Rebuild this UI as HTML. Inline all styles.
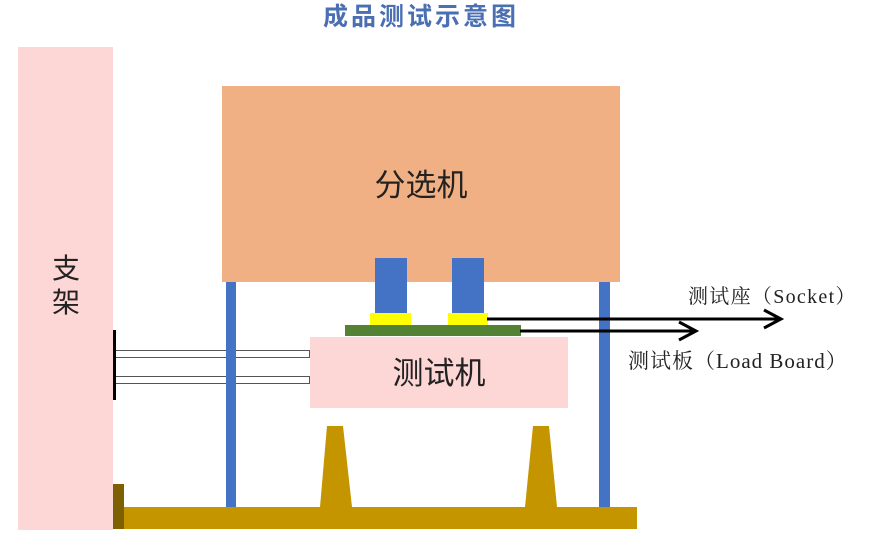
<!DOCTYPE html>
<html><head><meta charset="utf-8"><style>
body{margin:0;width:872px;height:548px;background:#fff;position:relative;overflow:hidden;font-family:"Liberation Serif","Noto Serif CJK SC",serif}
div{position:absolute}
</style></head><body>
<div style="left:310px;top:0;width:222px;text-align:center;font:bold 25px 'Noto Sans CJK SC',sans-serif;color:#4a6fb3;line-height:30px;letter-spacing:3px">成品测试示意图</div>
<div style="left:18px;top:47px;width:95px;height:483px;background:#fdd6d6"></div>
<div style="left:46px;top:250px;width:40px;font:28px 'Noto Sans CJK SC',sans-serif;color:#222;line-height:34px;text-align:center">支<br>架</div>
<div style="left:222px;top:86px;width:398px;height:196px;background:#f0b083"></div>
<div style="left:222px;top:160px;width:398px;text-align:center;font:31px 'Noto Sans CJK SC',sans-serif;color:#222">分选机</div>
<div style="left:226px;top:282px;width:10px;height:226px;background:#4472c4"></div>
<div style="left:599px;top:282px;width:11px;height:226px;background:#4472c4"></div>
<div style="left:375px;top:258px;width:32px;height:55px;background:#4472c4"></div>
<div style="left:452px;top:258px;width:32px;height:55px;background:#4472c4"></div>
<div style="left:370px;top:313px;width:41px;height:12px;background:#ffff00"></div>
<div style="left:448px;top:313px;width:40px;height:12px;background:#ffff00"></div>
<div style="left:345px;top:325px;width:176px;height:11px;background:#548235"></div>
<div style="left:310px;top:337px;width:258px;height:71px;background:#fdd6d6"></div>
<div style="left:310px;top:348px;width:258px;text-align:center;font:31px 'Noto Sans CJK SC',sans-serif;color:#222">测试机</div>
<div style="left:115px;top:350px;width:193px;height:6px;border:1px solid #555;background:#fff"></div>
<div style="left:115px;top:376px;width:193px;height:6px;border:1px solid #555;background:#fff"></div>
<div style="left:113px;top:330px;width:3px;height:70px;background:#000"></div>
<div style="left:226px;top:345px;width:10px;height:45px;background:#4472c4"></div>
<svg width="872" height="548" style="position:absolute;left:0;top:0">
<line x1="487" y1="319" x2="780" y2="319" stroke="#000" stroke-width="3"/>
<polyline points="764,310 781,319 764,328" fill="none" stroke="#000" stroke-width="3"/>
<line x1="520" y1="331" x2="695" y2="331" stroke="#000" stroke-width="3"/>
<polyline points="679,322 696,331 679,340" fill="none" stroke="#000" stroke-width="3"/>
<polygon points="327,426 343,426 352,507 320,507" fill="#c59500"/>
<polygon points="533,426 549,426 557,507 525,507" fill="#c59500"/>
<rect x="113" y="507" width="524" height="22" fill="#c59500"/>
<rect x="113" y="484" width="11" height="45" fill="#7f6000"/>
</svg>
<div style="left:688px;top:280px;font-size:20px;letter-spacing:1.3px;color:#222;white-space:nowrap">测试座（Socket）</div>
<div style="left:628px;top:345px;font-size:21px;letter-spacing:1px;color:#222;white-space:nowrap">测试板（Load Board）</div>
</body></html>
